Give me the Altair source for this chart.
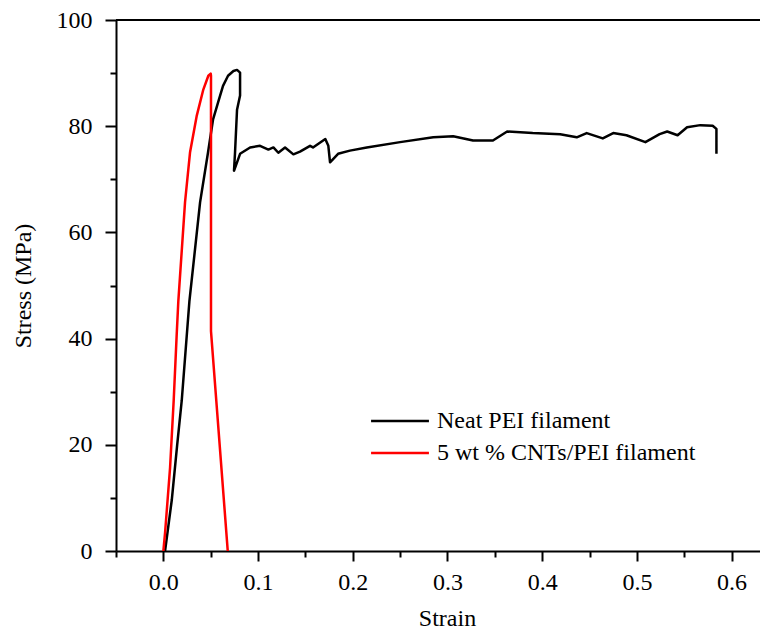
import altair as alt
import pandas as pd

# Neat PEI filament (strain, stress MPa) read along the path
neat_strain = [0.0018, 0.0089, 0.0146, 0.0194, 0.0275, 0.0388, 0.0472, 0.0525, 0.0578, 0.0630,
               0.0683, 0.0740, 0.0778, 0.0810, 0.0810, 0.0778, 0.0757, 0.0746, 0.0810, 0.0916,
               0.1021, 0.1109, 0.1162, 0.1214, 0.1285, 0.1373, 0.1443, 0.1549, 0.1580, 0.1710,
               0.1742, 0.1760, 0.1845, 0.1970, 0.2148, 0.2500, 0.2850, 0.3060, 0.3270, 0.3480,
               0.3630, 0.3900, 0.4190, 0.4365, 0.4470, 0.4640, 0.4750, 0.4890, 0.5090, 0.5240,
               0.5320, 0.5430, 0.5530, 0.5670, 0.5800, 0.5840, 0.5840]
neat_stress = [0.0, 9.6, 20.0, 28.3, 47.0, 65.7, 75.1, 81.3, 84.5, 87.6,
               89.5, 90.4, 90.6, 90.1, 85.8, 83.1, 75.1, 71.6, 74.8, 76.0,
               76.3, 75.6, 76.0, 75.0, 76.0, 74.7, 75.2, 76.3, 76.0, 77.6,
               76.3, 73.2, 74.8, 75.4, 76.0, 77.0, 77.9, 78.1, 77.3, 77.3,
               79.0, 78.7, 78.5, 77.9, 78.7, 77.7, 78.7, 78.3, 77.0, 78.5,
               79.0, 78.3, 79.8, 80.2, 80.1, 79.5, 74.8]

# 5 wt % CNTs/PEI filament
cnt_strain = [0.0, 0.0018, 0.0071, 0.0109, 0.0141, 0.0158, 0.0229, 0.0282, 0.0353, 0.0422,
              0.0475, 0.0500, 0.0503, 0.0503, 0.0680]
cnt_stress = [0.0, 3.4, 15.7, 28.3, 40.8, 47.0, 65.7, 75.1, 82.0, 86.9,
              89.5, 89.9, 89.5, 41.4, 0.0]

series_names = ["Neat PEI filament", "5 wt % CNTs/PEI filament"]
series_colors = ["#000000", "#ff0000"]

x_ticks = [round(-0.05 + 0.05 * i, 2) for i in range(14)]
y_ticks = [10 * i for i in range(11)]

rows = []
for i, (s, v) in enumerate(zip(neat_strain, neat_stress)):
    rows.append({"series": series_names[0], "strain": s, "stress": v, "idx": i})
for i, (s, v) in enumerate(zip(cnt_strain, cnt_stress)):
    rows.append({"series": series_names[1], "strain": s, "stress": v, "idx": i})
df = pd.DataFrame(rows)

FONT = "Liberation Serif"
FS = 24

x_major_test = "abs(datum.value*10 - round(datum.value*10)) < 0.001"
y_major_test = "abs(datum.value/20 - round(datum.value/20)) < 0.001"

xscale = alt.Scale(domain=[-0.05, 0.63], nice=False, zero=False)
yscale = alt.Scale(domain=[0, 100], nice=False)

lines = alt.Chart(df).mark_line(strokeWidth=2.5, strokeJoin="round", clip=True).encode(
    x=alt.X("strain:Q", scale=xscale,
            axis=alt.Axis(title="Strain", values=x_ticks,
                          labelExpr=f"{x_major_test} ? format(datum.value, '.1f') : ''",
                          tickSize={"condition": {"test": x_major_test, "value": 10}, "value": 6},
                          labelFont=FONT, labelFontSize=FS, titleFont=FONT, titleFontSize=FS,
                          labelPadding=9, titlePadding=12, titleX=331)),
    y=alt.Y("stress:Q", scale=yscale,
            axis=alt.Axis(title="Stress (MPa)", values=y_ticks,
                          labelExpr=f"{y_major_test} ? format(datum.value, 'd') : ''",
                          tickSize={"condition": {"test": y_major_test, "value": 11}, "value": 6},
                          labelFont=FONT, labelFontSize=FS, titleFont=FONT, titleFontSize=FS,
                          labelPadding=13, titlePadding=21)),
    color=alt.Color("series:N", scale=alt.Scale(domain=series_names, range=series_colors),
                    legend=alt.Legend(title=None, orient="none", legendX=272, legendY=389,
                                      symbolType="M-3,0H3", symbolSize=372, symbolStrokeWidth=2.5,
                                      symbolFillColor="transparent",
                                      labelFont=FONT, labelFontSize=FS, labelOffset=25,
                                      rowPadding=8, padding=0, labelLimit=400)),
    order=alt.Order("idx:Q"),
    detail="series:N",
)

top_rule = alt.Chart(pd.DataFrame({"y": [100]})).mark_rule(color="black", strokeWidth=2).encode(
    y=alt.Y("y:Q", scale=yscale)
)

chart = alt.layer(lines, top_rule).properties(
    width=644, height=531,
    autosize=alt.AutoSizeParams(type="none"),
    padding={"left": 108, "top": 12, "right": 0, "bottom": 78},
).configure(font=FONT).configure_view(stroke=None).configure_axis(
    labelColor="black", titleFontWeight="normal", titleColor="black",
    domainColor="black", domainWidth=2, tickColor="black", tickWidth=2,
    grid=False, labelFlush=False, labelOverlap=False,
)

chart.save("out.html", embed_options={"renderer": "svg", "actions": False})
